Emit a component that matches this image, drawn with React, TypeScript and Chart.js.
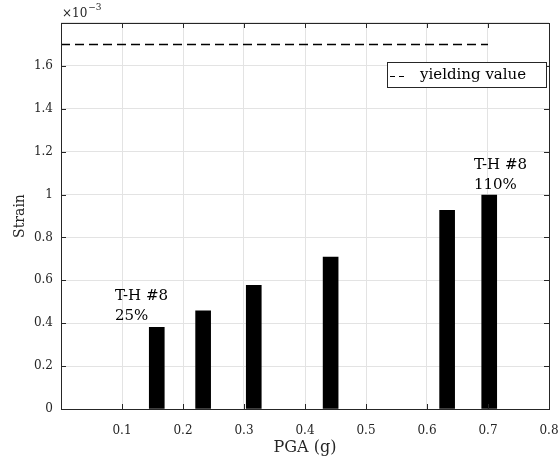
import React, { useEffect, useRef } from "react";
import { Chart, registerables } from "chart.js";

Chart.register(...registerables);

const pga = [0.157, 0.233, 0.316, 0.442, 0.633, 0.702];
const strain = [0.381e-3, 0.458e-3, 0.577e-3, 0.708e-3, 0.927e-3, 0.998e-3];
const yieldX = [0, 0.7];
const yieldStrain = 1.7e-3;
const yTicks = [0, 0.2, 0.4, 0.6, 0.8, 1, 1.2, 1.4, 1.6];
const xTicks = [0.1, 0.2, 0.3, 0.4, 0.5, 0.6, 0.7, 0.8];
const annotations = [
  { x: 0.0885, y: 0.527e-3, lines: ["T-H #8", "25%"] },
  { x: 0.677, y: 1.136e-3, lines: ["T-H #8", "110%"] },
];
const legendLabel = "yielding value";

const FONT = "'DejaVu Serif', serif";
const AX = "#262626";

const overlay = {
  id: "overlay",
  afterDraw(chart: any) {
    const { ctx, chartArea: a, scales } = chart;
    const xs = scales.x;
    const ys = scales.y;
    ctx.save();
    // inner ticks
    ctx.strokeStyle = AX;
    ctx.lineWidth = 1;
    const tl = 5;
    ctx.beginPath();
    for (const v of [0, ...xTicks]) {
      const px = Math.round(xs.getPixelForValue(v)) + 0.5;
      ctx.moveTo(px, a.bottom);
      ctx.lineTo(px, a.bottom - tl);
      ctx.moveTo(px, a.top);
      ctx.lineTo(px, a.top + tl);
    }
    for (const v of [...yTicks, 1.8]) {
      const py = Math.round(ys.getPixelForValue(v * 1e-3)) + 0.5;
      ctx.moveTo(a.left, py);
      ctx.lineTo(a.left + tl, py);
      ctx.moveTo(a.right, py);
      ctx.lineTo(a.right - tl, py);
    }
    ctx.stroke();
    // box
    ctx.strokeRect(Math.round(a.left) + 0.5, Math.round(a.top) + 0.5, Math.round(a.right - a.left), Math.round(a.bottom - a.top));

    // exponent
    ctx.fillStyle = AX;
    ctx.font = `12px ${FONT}`;
    ctx.textBaseline = "alphabetic";
    ctx.textAlign = "left";
    ctx.fillText("×10", a.left + 1, 17);
    const w = ctx.measureText("×10").width;
    ctx.font = `9px ${FONT}`;
    ctx.fillText("−3", a.left + 1 + w + 1, 10);

    // annotations
    ctx.fillStyle = "#000";
    ctx.font = `15px ${FONT}`;
    ctx.textBaseline = "middle";
    for (const an of annotations) {
      const px = xs.getPixelForValue(an.x);
      const py = ys.getPixelForValue(an.y);
      an.lines.forEach((t, i) => ctx.fillText(t, px, py + i * 20));
    }

    // legend
    const lx = 387, ly = 62, lw = 159, lh = 25;
    ctx.fillStyle = "#fff";
    ctx.fillRect(lx, ly, lw, lh);
    ctx.strokeStyle = AX;
    ctx.lineWidth = 1;
    ctx.strokeRect(lx + 0.5, ly + 0.5, lw, lh);
    ctx.strokeStyle = "#000";
    ctx.setLineDash([5, 4]);
    ctx.beginPath();
    ctx.moveTo(390, ly + 14.5);
    ctx.lineTo(404, ly + 14.5);
    ctx.stroke();
    ctx.setLineDash([]);
    ctx.fillStyle = "#000";
    ctx.font = `15px ${FONT}`;
    ctx.textBaseline = "middle";
    ctx.fillText(legendLabel, 420, ly + 13);
    ctx.restore();
  },
};

export default function App() {
  const ref = useRef<HTMLCanvasElement>(null);
  useEffect(() => {
    document.body.style.margin = "0";
    const chart = new Chart(ref.current!, {
      type: "bar",
      data: {
        datasets: [
          {
            type: "bar",
            label: "Strain",
            data: pga.map((x, i) => ({ x, y: strain[i] })),
            backgroundColor: "#000",
            barThickness: 15,
            order: 2,
          } as any,
          {
            type: "line",
            label: legendLabel,
            data: yieldX.map((x) => ({ x, y: yieldStrain })),
            borderColor: "#000",
            borderWidth: 1.5,
            borderDash: [9, 5],
            pointRadius: 0,
            fill: false,
            order: 1,
          } as any,
        ],
      },
      options: {
        animation: false,
        responsive: false,
        maintainAspectRatio: false,
        layout: { padding: { left: 0, right: 11, top: 23, bottom: 0 } },
        plugins: { legend: { display: false }, tooltip: { enabled: false } },
        scales: {
          x: {
            type: "linear",
            min: 0,
            max: 0.8,
            offset: false,
            afterBuildTicks: (s: any) => {
              s.ticks = [0, ...xTicks].map((v) => ({ value: v }));
            },
            afterFit: (s: any) => {
              s.height = 50;
              s.paddingLeft = 0;
              s.paddingRight = 0;
            },
            ticks: {
              color: AX,
              font: { family: FONT, size: 12 },
              padding: 15,
              maxRotation: 0,
              autoSkip: false,
              callback: (v: any) => (v === 0 ? "" : String(Math.round(v * 10) / 10)),
            },
            grid: { color: "#e3e3e3", drawTicks: false, offset: false },
            border: { display: false },
            title: {
              display: true,
              text: "PGA (g)",
              color: AX,
              font: { family: FONT, size: 16 },
              padding: { top: 0, bottom: 2 },
            },
          },
          y: {
            type: "linear",
            min: 0,
            max: 1.8e-3,
            afterBuildTicks: (s: any) => {
              s.ticks = [...yTicks, 1.8].map((v) => ({ value: v * 1e-3 }));
            },
            afterFit: (s: any) => {
              s.width = 61;
              s.paddingTop = 0;
              s.paddingBottom = 0;
            },
            ticks: {
              color: AX,
              font: { family: FONT, size: 12 },
              padding: 8,
              autoSkip: false,
              callback: (v: any) => {
                const r = Math.round(v * 1e4) / 10;
                return r >= 1.8 ? "" : String(r);
              },
            },
            grid: { color: "#e3e3e3", drawTicks: false },
            border: { display: false },
            title: {
              display: true,
              text: "Strain",
              color: AX,
              font: { family: FONT, size: 14 },
              padding: { top: 11.6, bottom: 0 },
            },
          },
        },
      },
      plugins: [overlay],
    });
    return () => chart.destroy();
  }, []);
  return <canvas ref={ref} width={560} height={459} style={{ display: "block" }} />;
}
